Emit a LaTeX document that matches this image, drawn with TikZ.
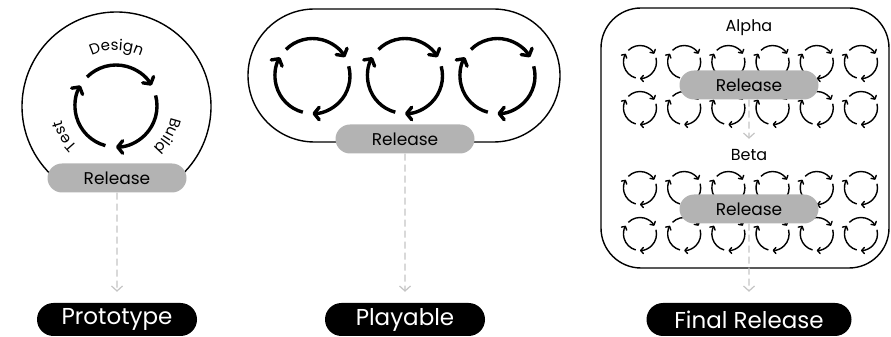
\documentclass[tikz,border=0pt]{standalone}
\usepackage{fontspec}
\setmainfont{Poppins}
\usetikzlibrary{arrows.meta,positioning,calc,shapes.misc,decorations.text}
\definecolor{PillGray}{HTML}{B3B3B3}
\definecolor{FlowGray}{HTML}{C4C4C4}
\tikzset{
  bigloop/.style={line width=3.4pt,-{Straight Barb[round,length=5pt,width=12.5pt]}},
  smallloop/.style={line width=1.4pt,-{Straight Barb[round,length=2.6pt,width=6pt]}},
  release/.style={rounded rectangle,fill=PillGray,minimum width=139pt,minimum height=29pt,
    inner sep=0pt,font=\fontsize{17}{19}\selectfont},
  stage/.style={rounded rectangle,fill=black,text=white,minimum width=160pt,minimum height=33pt,
    inner sep=0pt,font=\fontsize{23}{26}\selectfont},
  flow/.style={FlowGray,line width=1.2pt,dash pattern=on 7pt off 4pt,
    -{Straight Barb[length=5pt,width=11pt]}},
  panel/.style={draw,line width=1.4pt}
}
% three arcs of one iteration cycle: [style]{centre}{radius}
\newcommand{\devloop}[3][bigloop]{%
  \foreach \a in {135,15,-105}
    \draw[#1] ($(#2)+(\a:#3)$) arc[start angle=\a,end angle=\a-105,radius=#3];}
\newcommand{\arclabel}[2]{% text along the circle, clockwise: {mid angle}{text}
  \path[decorate,decoration={text along path,text align=center,
      text={|\fontsize{15}{17}\selectfont|#2}}]
    ($(116.5,231)+(#1+30:56)$) arc[start angle=#1+30,end angle=#1-30,radius=56];}

\begin{document}
\begin{tikzpicture}[x=1pt,y=1pt]
  \useasboundingbox (0,0) rectangle (891,337);

  % Prototype: one cycle inside the circle
  \draw[panel] ($(116.5,230.5)+(-55:94.5)$) arc[start angle=-55,end angle=235,radius=94.5];
  \devloop{116,231}{41}
  \arclabel{90}{Design}
  \arclabel{-30}{Build}
  \arclabel{-150}{Test}
  \node[release] (rel1) at (117,159) {Release};
  \node[stage] (proto) at (117,17.5) {Prototype};
  \draw[flow,shorten >=11pt] (rel1) -- (proto);

  % Playable: three cycles in the stadium
  \draw[panel,rounded corners=66.5pt] (248,195) rectangle (560,328);
  \foreach \x in {312.5,405,497.5}
    \devloop{\x,261}{37.5};
  \node[release] (rel2) at (405,198) {Release};
  \node[stage] (play) at (405,17.5) {Playable};
  \draw[flow,shorten >=11pt] (rel2) -- (play);

  % Final release: alpha and beta, 6 x 2 cycles each
  \draw[panel,rounded corners=40pt] (601,69) rectangle (889,329);
  \foreach \y in {275,229,149,103}
    \foreach \i in {0,...,5}
      \devloop[smallloop]{640+44.2*\i,\y}{16.5};
  \node[font=\fontsize{16}{18}\selectfont] (alpha) at (749,309) {Alpha};
  \node[font=\fontsize{16}{18}\selectfont] (beta) at (749,182) {Beta};
  \node[release] (relA) at (749,252) {Release};
  \node[release] (relB) at (749,128) {Release};
  \node[stage,minimum width=205pt] (final) at (749,17.5) {Final Release};
  \draw[flow,shorten >=7pt] (relA) -- (beta);
  \draw[flow,shorten >=11pt] (relB) -- (final);
\end{tikzpicture}
\end{document}
